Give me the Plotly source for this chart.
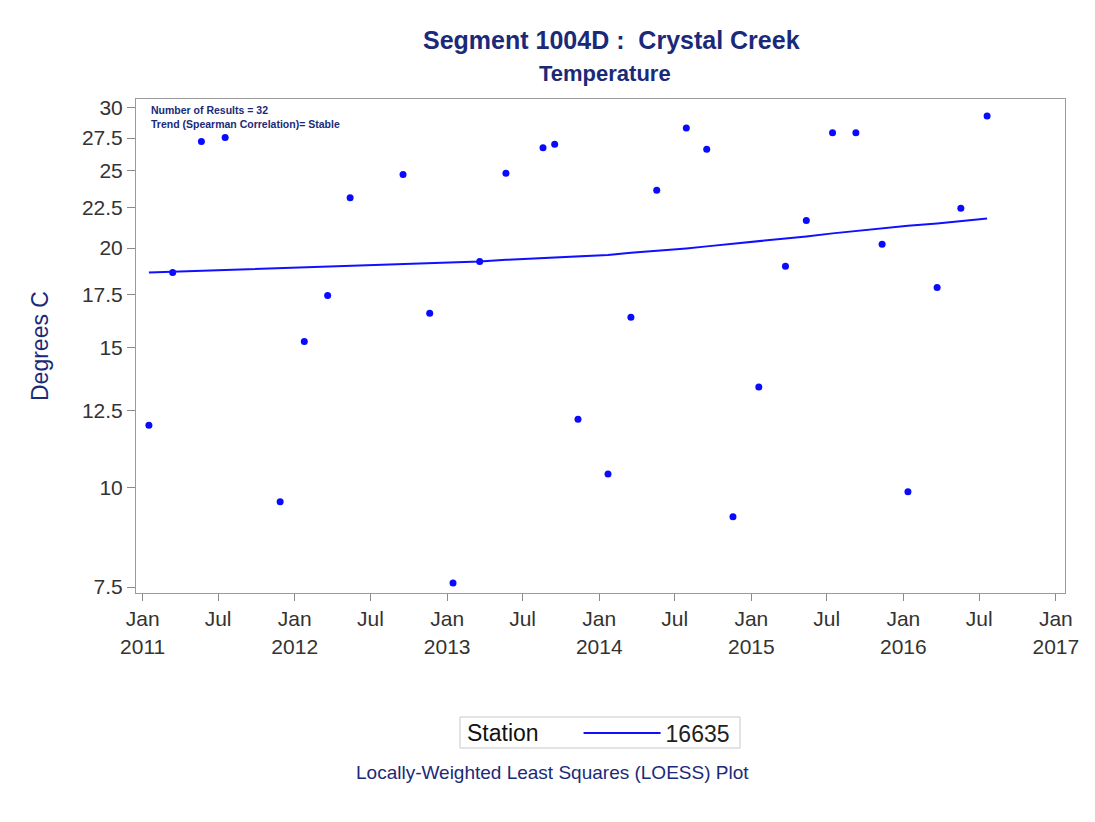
import plotly.graph_objects as go

# ---- data ----
sample_dates = [
    "2011-01-16", "2011-03-14", "2011-05-22", "2011-07-18", "2011-11-27",
    "2012-01-24", "2012-03-20", "2012-05-13", "2012-09-17", "2012-11-20",
    "2013-01-15", "2013-03-20", "2013-05-22", "2013-08-19", "2013-09-16",
    "2013-11-11", "2014-01-22", "2014-03-18", "2014-05-19", "2014-07-29",
    "2014-09-16", "2014-11-18", "2015-01-19", "2015-03-24", "2015-05-13",
    "2015-07-15", "2015-09-09", "2015-11-11", "2016-01-12", "2016-03-22",
    "2016-05-18", "2016-07-20",
]
temperature = [
    11.98, 18.64, 27.22, 27.54, 9.60,
    15.26, 17.44, 23.13, 24.74, 16.56,
    7.59, 19.24, 24.84, 26.73, 27.01,
    12.19, 10.40, 16.37, 23.65, 28.31,
    26.62, 9.19, 13.38, 18.97, 21.67,
    27.93, 27.93, 20.23, 9.88, 17.85,
    22.45, 29.32,
]
loess_fit = [
    18.64, 18.68, 18.74, 18.79, 18.89,
    18.93, 18.97, 19.00, 19.08, 19.14,
    19.19, 19.24, 19.33, 19.42, 19.45,
    19.50, 19.61, 19.73, 19.84, 19.98,
    20.10, 20.25, 20.39, 20.54, 20.69,
    20.87, 21.02, 21.19, 21.33, 21.48,
    21.64, 21.79,
]
station_name = "16635"

x_tick_vals = ["2011-01-01", "2011-07-01", "2012-01-01", "2012-07-01", "2013-01-01",
               "2013-07-01", "2014-01-01", "2014-07-01", "2015-01-01", "2015-07-01",
               "2016-01-01", "2016-07-01", "2017-01-01"]
x_tick_text = ["Jan<br>2011", "Jul", "Jan<br>2012", "Jul", "Jan<br>2013", "Jul",
               "Jan<br>2014", "Jul", "Jan<br>2015", "Jul", "Jan<br>2016", "Jul",
               "Jan<br>2017"]
y_tick_vals = [7.5, 10, 12.5, 15, 17.5, 20, 22.5, 25, 27.5, 30]
y_tick_text = ["7.5", "10", "12.5", "15", "17.5", "20", "22.5", "25", "27.5", "30"]

NAVY = "#1b2a78"
FONT = "Liberation Sans, Arial, sans-serif"

fig = go.Figure()
fig.add_trace(go.Scatter(
    x=sample_dates, y=temperature, mode="markers",
    marker=dict(color="#0a0aff", size=7),
    showlegend=False, hoverinfo="x+y",
))
fig.add_trace(go.Scatter(
    x=sample_dates, y=loess_fit, mode="lines",
    line=dict(color="#1010ff", width=2),
    name=station_name,
))

# page body has an 8px margin; figure sized so that the plot area lands at
# page pixels x 136..1065, y 99..593
OFF = 8
W, H = 1087, 814
L, R, T, B = 128, 30, 91, 229
pw = W - L - R
ph = H - T - B

def px_x(x):
    return (x - OFF - L) / pw

def px_y(y):
    return (H - B - (y - OFF)) / ph

fig.update_layout(
    width=W, height=H,
    margin=dict(l=L, r=R, t=T, b=B, autoexpand=False),
    paper_bgcolor="white", plot_bgcolor="white",
    font=dict(family=FONT, color="#333333"),
    xaxis=dict(
        type="date",
        range=["2010-12-16", "2017-01-23"],
        tickmode="array", tickvals=x_tick_vals, ticktext=x_tick_text,
        ticks="outside", ticklen=7, tickcolor="#8a8a8a", tickwidth=1,
        tickfont=dict(size=21, color="#333333", family=FONT),
        showgrid=False, zeroline=False,
        showline=True, linecolor="#9a9a9a", linewidth=1, mirror=True,
    ),
    yaxis=dict(
        type="log",
        range=[0.8676, 1.4884],
        tickmode="array", tickvals=y_tick_vals, ticktext=y_tick_text,
        ticks="outside", ticklen=8, tickcolor="#8a8a8a", tickwidth=1,
        tickfont=dict(size=21, color="#333333", family=FONT),
        showgrid=False, zeroline=False,
        showline=True, linecolor="#9a9a9a", linewidth=1, mirror=True,
    ),
    legend=dict(
        title=dict(text="Station&nbsp;&nbsp;&nbsp;&nbsp;&nbsp;", font=dict(size=23, color="#111111", family=FONT), side="left"),
        font=dict(size=23, color="#222222", family=FONT),
        orientation="h",
        x=px_x(600), xanchor="center",
        y=px_y(733), yanchor="middle",
        borderwidth=0,
        itemwidth=77,
        bgcolor="rgba(0,0,0,0)",
    ),
    showlegend=True,
)

annotations = [
    dict(text="<b>Segment 1004D :  Crystal Creek</b>", x=px_x(611), y=px_y(40),
         font=dict(size=25, color=NAVY, family=FONT)),
    dict(text="<b>Temperature</b>", x=px_x(605), y=px_y(73),
         font=dict(size=22, color=NAVY, family=FONT)),
    dict(text="Degrees C", x=px_x(40), y=px_y(346), textangle=-90,
         font=dict(size=23, color=NAVY, family=FONT)),
    dict(text="<b>Number of Results = 32</b>", x=px_x(149), y=px_y(110), xanchor="left",
         font=dict(size=10.5, color=NAVY, family=FONT)),
    dict(text="<b>Trend (Spearman Correlation)= Stable</b>", x=px_x(149), y=px_y(124), xanchor="left",
         font=dict(size=10.5, color=NAVY, family=FONT)),
    dict(text="Locally-Weighted Least Squares (LOESS) Plot", x=px_x(552), y=px_y(772),
         font=dict(size=19, color=NAVY, family=FONT)),
]
for a in annotations:
    a.setdefault("xanchor", "center")
    fig.add_annotation(xref="paper", yref="paper", showarrow=False, yanchor="middle", **a)

# legend frame
fig.add_shape(type="rect", xref="paper", yref="paper",
              x0=px_x(460), x1=px_x(740), y0=px_y(748), y1=px_y(717),
              line=dict(color="#c8c8c8", width=1), layer="below")

fig.write_html("out.html")
